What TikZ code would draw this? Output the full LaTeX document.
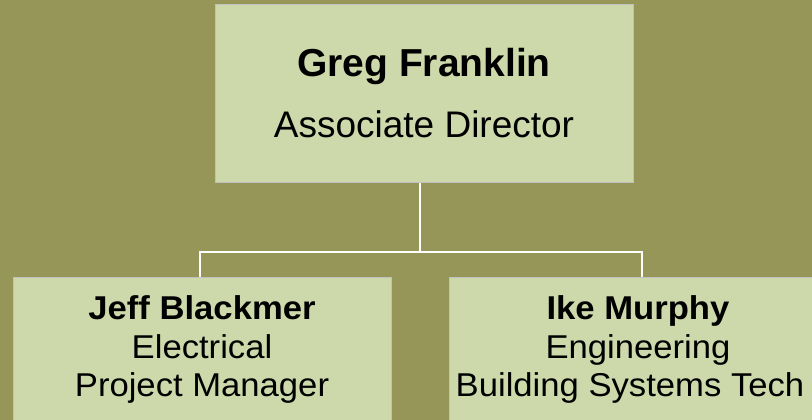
\documentclass[tikz,border=0pt]{standalone}
\usepackage{fontspec}
\setmainfont{Liberation Sans}
\newfontfamily\staffFont[FakeStretch=1.05]{Liberation Sans}
\definecolor{olive}{RGB}{149,150,88}
\definecolor{boxgreen}{RGB}{205,217,170}
\definecolor{boxedge}{RGB}{192,192,192}

\begin{document}
\begin{tikzpicture}
[x=1pt, y=-1pt,
every node/.style={draw=boxedge, line width=1pt, fill=boxgreen, align=center, inner sep=0pt},
topbox/.style={minimum width=418pt, minimum height=177pt,
  font=\fontsize{37}{61}\selectfont},
staffbox/.style={minimum width=378pt, minimum height=145pt,
  font=\staffFont\fontsize{33}{38.5}\selectfont},
link/.style={draw=white, line width=1.5pt}]

\useasboundingbox (0,0) rectangle (812,420);
\fill[olive] (0,0) rectangle (812,420);
\clip (0,0) rectangle (812,420);

\node[topbox] (greg) at (424,93.5) {{\fontsize{39}{61}\selectfont\bfseries Greg Franklin}\\ Associate Director};

\node[staffbox] (jeff) at (202,349.5) {\textbf{Jeff Blackmer}\\ Electrical\\ Project Manager};
\node[staffbox] (ike) at (638,349.5) {\textbf{Ike Murphy}\\ Engineering\\ \hspace*{-16pt}Building Systems Tech};

\coordinate (bus) at (420,252);
\draw[link] (bus |- greg.south) -- (bus);
\draw[link] (bus) -| ([xshift=-2pt]jeff.north);
\draw[link] (bus) -| ([xshift=4pt]ike.north);
\end{tikzpicture}
\end{document}
